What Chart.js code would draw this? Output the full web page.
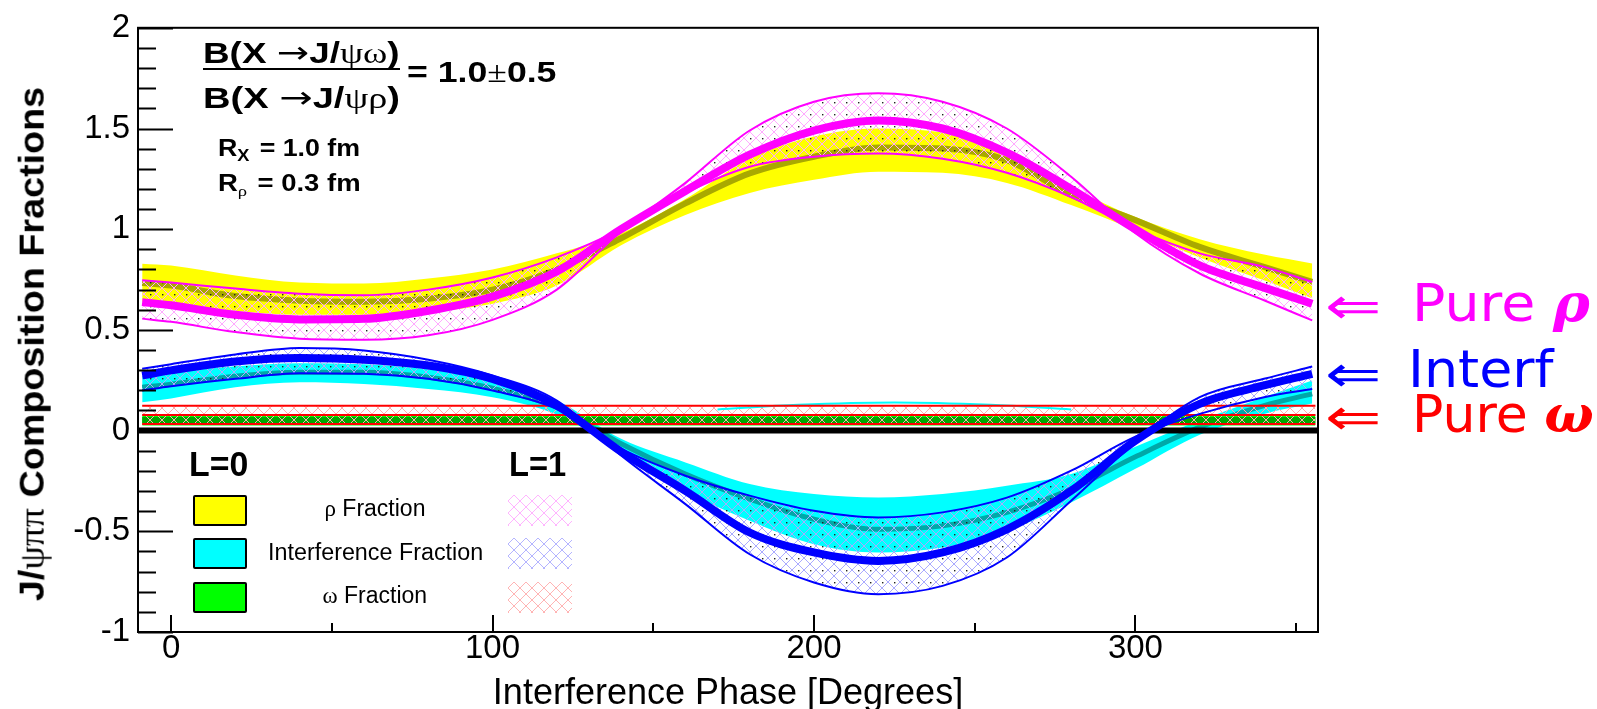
<!DOCTYPE html>
<html>
<head>
<meta charset="utf-8">
<script src="https://cdn.jsdelivr.net/npm/chart.js@4.4.1/dist/chart.umd.min.js"></script>
<style>
html, body { margin: 0; padding: 0; background: #fff; }
#wrap { position: relative; width: 1597px; height: 709px; overflow: hidden; font-family: "Liberation Sans", Arial, sans-serif; color: #000; }
#c { position: absolute; left: 0; top: 0; }
.t { position: absolute; white-space: nowrap; line-height: 1; transform-origin: 0 50%; }
.b { font-weight: bold; }
.g { font-family: "Liberation Serif", serif; font-weight: normal; }
.ar { font-family: "DejaVu Sans", sans-serif; font-weight: normal; font-size: 1.05em; }
.sub { font-size: 0.68em; position: relative; top: 0.35em; margin-right: 0.15em; }
.rl { font-family: "DejaVu Sans", sans-serif; }
.gi { font-family: "DejaVu Serif", serif; font-style: italic; font-weight: bold; }
.sw { position: absolute; box-sizing: border-box; }
.box { border: 2px solid #000; border-radius: 2px; }
#bar { position: absolute; left: 203px; top: 68px; width: 197px; height: 2px; background: #000; }
</style>
</head>
<body>
<div id="wrap">
  <canvas id="c" width="1597" height="709"></canvas>

  <div class="t b" id="ytitle">J/<span class="g">ψππ</span> Composition Fractions</div>

  <div class="t b" id="num">B(X <span class="ar">→</span>J/<span class="g">ψω</span>)</div>
  <div id="bar"></div>
  <div class="t b" id="den">B(X <span class="ar">→</span>J/<span class="g">ψρ</span>)</div>
  <div class="t b" id="ratio">= 1.0<span class="g">±</span>0.5</div>
  <div class="t b" id="rx">R<span class="sub">X</span> = 1.0 fm</div>
  <div class="t b" id="rr">R<span class="sub g">ρ</span> = 0.3 fm</div>

  <div class="t b" id="l0">L=0</div>
  <div class="t b" id="l1">L=1</div>
  <div class="sw box" id="sw0a" style="left:193px;top:495px;width:54px;height:31px;background:#ffff00"></div>
  <div class="sw box" id="sw0b" style="left:193px;top:538px;width:54px;height:31px;background:#00ffff"></div>
  <div class="sw box" id="sw0c" style="left:193px;top:582px;width:54px;height:31px;background:#00ff00"></div>
  <div class="sw" id="sw1a" style="left:508px;top:495px;width:64px;height:31px"></div>
  <div class="sw" id="sw1b" style="left:508px;top:538px;width:64px;height:31px"></div>
  <div class="sw" id="sw1c" style="left:508px;top:582px;width:64px;height:31px"></div>
  <div class="t" id="lt1"><span class="g">ρ</span> Fraction</div>
  <div class="t" id="lt2">Interference Fraction</div>
  <div class="t" id="lt3"><span class="g">ω</span> Fraction</div>

  <div class="t rl" id="a1" style="color:#ff00ff">⇐</div>
  <div class="t rl" id="a2" style="color:#0000ff">⇐</div>
  <div class="t rl" id="a3" style="color:#ff0000">⇐</div>
  <div class="t rl" id="r1" style="color:#ff00ff">Pure <span class="gi">ρ</span></div>
  <div class="t rl" id="r2" style="color:#0000ff">Interf</div>
  <div class="t rl" id="r3" style="color:#ff0000">Pure <span class="gi">ω</span></div>
</div>

<script>
// interference phase in degrees
const phase = [-9, 0, 20, 40, 60, 80, 100, 120, 140, 160, 180, 200, 220, 240, 260, 280, 300, 320, 340, 355];

// L=0 rho fraction (yellow band + centre)
const rhoL0Low  = [0.64, 0.63, 0.595, 0.575, 0.575, 0.59, 0.63, 0.72, 0.92, 1.07, 1.18, 1.245, 1.285, 1.28, 1.23, 1.12, 0.995, 0.86, 0.746, 0.657];
const rhoL0High = [0.829, 0.82, 0.77, 0.735, 0.73, 0.755, 0.80, 0.88, 0.98, 1.15, 1.35, 1.46, 1.50, 1.48, 1.40, 1.21, 1.06, 0.95, 0.874, 0.83];
const rhoL0Mid  = [0.733, 0.72, 0.668, 0.645, 0.64, 0.655, 0.70, 0.80, 0.955, 1.128, 1.277, 1.36, 1.406, 1.401, 1.343, 1.17, 1.045, 0.912, 0.813, 0.738];

// L=1 rho fraction (magenta)
const rhoL1Mid = [0.638, 0.622, 0.575, 0.552, 0.555, 0.595, 0.665, 0.79, 1.0, 1.19, 1.37, 1.49, 1.54, 1.50, 1.38, 1.20, 1.0, 0.82, 0.71, 0.63];
const rhoL1A   = [0.556, 0.54, 0.489, 0.456, 0.451, 0.473, 0.55, 0.70, 0.99, 1.23, 1.49, 1.633, 1.675, 1.633, 1.50, 1.26, 0.98, 0.78, 0.647, 0.547];
const rhoL1B   = [0.746, 0.735, 0.705, 0.68, 0.672, 0.70, 0.76, 0.86, 1.0, 1.18, 1.31, 1.36, 1.376, 1.35, 1.28, 1.16, 1.0, 0.88, 0.813, 0.738];

// L=0 interference fraction (cyan)
const intL0Low  = [0.141, 0.16, 0.215, 0.24, 0.232, 0.207, 0.166, 0.08, -0.1, -0.3, -0.448, -0.564, -0.605, -0.58, -0.498, -0.357, -0.19, -0.02, 0.083, 0.134];
const intL0High = [0.27, 0.29, 0.32, 0.335, 0.33, 0.305, 0.25, 0.15, -0.041, -0.158, -0.265, -0.315, -0.332, -0.315, -0.274, -0.216, -0.08, 0.05, 0.166, 0.249];
const intL0Mid  = [0.215, 0.23, 0.27, 0.29, 0.29, 0.265, 0.21, 0.115, -0.065, -0.216, -0.34, -0.44, -0.49, -0.473, -0.406, -0.29, -0.13, 0.017, 0.124, 0.182];

// L=1 interference fraction (blue)
const intL1Mid = [0.274, 0.299, 0.343, 0.36, 0.352, 0.323, 0.257, 0.125, -0.105, -0.299, -0.506, -0.605, -0.647, -0.605, -0.49, -0.299, -0.05, 0.133, 0.224, 0.282];
const intL1A   = [0.307, 0.33, 0.378, 0.41, 0.398, 0.352, 0.274, 0.149, -0.124, -0.365, -0.614, -0.754, -0.812, -0.771, -0.63, -0.348, -0.06, 0.166, 0.257, 0.318];
const intL1B   = [0.199, 0.22, 0.257, 0.285, 0.282, 0.257, 0.199, 0.108, -0.09, -0.224, -0.323, -0.398, -0.431, -0.406, -0.333, -0.199, -0.03, 0.083, 0.166, 0.207];

// omega fractions (flat)
const omegaPhase  = [-9, 356];
const omegaL0Low  = [0.025, 0.025];
const omegaL0High = [0.08, 0.08];
const omegaL0Mid  = [0.053, 0.053];
const omegaL1Low  = [0.033, 0.033];
const omegaL1Mid  = [0.078, 0.078];
const omegaL1High = [0.124, 0.124];

// thin cyan edge above the omega band
const sliverPhase = [170, 195, 225, 255, 280];
const sliverVals  = [0.105, 0.128, 0.14, 0.128, 0.105];

const zeroPhase = [-10.3, 356.8];
const zeroVals  = [0, 0];

const xTicks = [0, 100, 200, 300];
const yTicks = [-1, -0.5, 0, 0.5, 1, 1.5, 2];
const yTickLabels = ['-1', '-0.5', '0', '0.5', '1', '1.5', '2'];

const canvas = document.getElementById('c');
const ctx = canvas.getContext('2d');

function hatchTile(color, dots) {
    const c = document.createElement('canvas');
    c.width = 12; c.height = 12;
    const g = c.getContext('2d');
    g.strokeStyle = color;
    g.lineWidth = 1;
    g.beginPath();
    g.moveTo(0, 6); g.lineTo(6, 0); g.lineTo(12, 6); g.lineTo(6, 12); g.closePath();
    g.stroke();
    if (dots) {
        g.fillStyle = '#222';
        g.fillRect(6, 6, 1.4, 1.4);
    }
    return c;
}

const pinkHatch = ctx.createPattern(hatchTile('#ffaaff', true), 'repeat');
const blueHatch = ctx.createPattern(hatchTile('#aaaaff', true), 'repeat');
const redHatch  = ctx.createPattern(hatchTile('#ffaaaa', true), 'repeat');

document.getElementById('sw1a').style.background = 'url(' + hatchTile('#ffb4ff', false).toDataURL() + ')';
document.getElementById('sw1b').style.background = 'url(' + hatchTile('#b4b4ff', false).toDataURL() + ')';
document.getElementById('sw1c').style.background = 'url(' + hatchTile('#ffb4b4', false).toDataURL() + ')';

const datasets = [];
function pts(xs, ys) { return xs.map((x, i) => ({ x: x, y: ys[i] })); }
function curve(xs, ys, color, width, order, extra) {
    datasets.push(Object.assign({
        data: pts(xs, ys),
        borderColor: color,
        borderWidth: width,
        pointRadius: 0,
        fill: false,
        order: order,
        cubicInterpolationMode: 'monotone'
    }, extra || {}));
    return datasets.length - 1;
}
function band(xs, lo, hi, bg, order) {
    const i = curve(xs, lo, 'rgba(0,0,0,0)', 0, order);
    curve(xs, hi, 'rgba(0,0,0,0)', 0, order, { fill: { target: i }, backgroundColor: bg });
}

// back to front
band(phase, rhoL0Low, rhoL0High, '#ffff00', 16);
curve(phase, rhoL0Mid, '#a9a900', 6, 15);
band(phase, intL0Low, intL0High, '#00ffff', 14);
curve(phase, intL0Mid, '#00a8a8', 5, 13);
band(omegaPhase, omegaL0Low, omegaL0High, '#00ff00', 12);
curve(omegaPhase, omegaL0Mid, '#00a800', 6, 11);
band(phase, rhoL1A, rhoL1B, pinkHatch, 10);
band(phase, intL1A, intL1B, blueHatch, 9);
band(omegaPhase, omegaL1Low, omegaL1High, redHatch, 8);
curve(sliverPhase, sliverVals, '#00ffff', 2, 7);
curve(omegaPhase, omegaL1Low, '#ff0000', 2, 6);
curve(omegaPhase, omegaL1Mid, '#ff0000', 2, 6);
curve(omegaPhase, omegaL1High, '#ff0000', 2, 6);
curve(phase, rhoL1A, '#ff00ff', 2, 5);
curve(phase, rhoL1B, '#ff00ff', 2, 5);
curve(phase, intL1A, '#0000ff', 2, 4);
curve(phase, intL1B, '#0000ff', 2, 4);
curve(zeroPhase, zeroVals, '#000000', 6, 3);
curve(phase, rhoL1Mid, '#ff00ff', 8, 2);
curve(phase, intL1Mid, '#0000ff', 8, 1);

// frame and inward ticks, ROOT style
const frameTicks = {
    id: 'frameTicks',
    afterDraw(chart) {
        const { ctx, chartArea: a, scales: { x, y } } = chart;
        ctx.save();
        ctx.strokeStyle = '#000';
        ctx.lineWidth = 2;
        ctx.beginPath();
        for (let k = -10; k <= 20; k++) {
            const py = Math.round(y.getPixelForValue(k / 10)) + 0.5;
            const len = k % 5 === 0 ? 35 : 18;
            ctx.moveTo(a.left, py);
            ctx.lineTo(a.left + len, py);
        }
        for (let k = 0; k <= 7; k++) {
            const px = Math.round(x.getPixelForValue(k * 50));
            const len = k % 2 === 0 ? 17 : 9;
            ctx.moveTo(px, a.bottom);
            ctx.lineTo(px, a.bottom - len);
        }
        ctx.stroke();
        ctx.strokeRect(a.left, a.top, a.right - a.left, a.bottom - a.top);
        ctx.restore();
    }
};

const tickFont = { family: 'Liberation Sans', size: 33 };

new Chart(ctx, {
    type: 'line',
    data: { datasets: datasets },
    options: {
        responsive: false,
        animation: false,
        devicePixelRatio: 1,
        layout: { padding: { top: 26, right: 279, bottom: 0, left: 0 } },
        plugins: { legend: { display: false }, tooltip: { enabled: false } },
        scales: {
            x: {
                type: 'linear',
                min: -10.3,
                max: 356.8,
                grid: { display: false, drawTicks: false },
                border: { display: false },
                afterBuildTicks: s => { s.ticks = xTicks.map(v => ({ value: v })); },
                afterFit: s => { s.height = 77; },
                ticks: { font: tickFont, color: '#000', padding: -3, maxRotation: 0, autoSkip: false },
                title: {
                    display: true,
                    text: 'Interference Phase [Degrees]',
                    font: { family: 'Liberation Sans', size: 36 },
                    color: '#000',
                    padding: { top: 0, bottom: -7 }
                }
            },
            y: {
                type: 'linear',
                min: -1,
                max: 2,
                grid: { display: false, drawTicks: false },
                border: { display: false },
                afterBuildTicks: s => { s.ticks = yTicks.map(v => ({ value: v })); },
                afterFit: s => { s.width = 138; },
                ticks: {
                    font: tickFont, color: '#000', padding: 8, autoSkip: false,
                    callback: (v, i) => yTickLabels[i]
                }
            }
        }
    },
    plugins: [frameTicks]
});

// text placement helpers
function place(id, left, capY, size, width, center) {
    const el = document.getElementById(id);
    el.style.fontSize = size + 'px';
    const w = el.offsetWidth;
    const k = width ? width / w : 1;
    el.style.left = (center ? left - w * k / 2 : left) + 'px';
    el.style.top = (capY - 0.49 * size) + 'px';
    if (width) el.style.transform = 'scaleX(' + k + ')';
}

const yt = document.getElementById('ytitle');
yt.style.fontSize = '35px';
const W = yt.offsetWidth, H = yt.offsetHeight;
yt.style.left = (31 - W / 2) + 'px';
yt.style.top = (344 - H / 2) + 'px';
yt.style.transformOrigin = '50% 50%';
yt.style.transform = 'rotate(-90deg) scaleX(' + (514 / W) + ')';

place('num', 203, 52, 29, 197);
place('den', 203, 97, 29, 197);
place('ratio', 407, 72, 29, 150);
place('rx', 218, 148, 23, 142);
place('rr', 218, 183, 23, 142);

place('l0', 189, 463, 35, 59);
place('l1', 509, 463, 35, 57);
place('lt1', 375, 508, 23, 0, true);
place('lt2', 375, 552, 23, 215, true);
place('lt3', 375, 595, 23, 0, true);

place('a1', 1325, 305, 52, 57);
place('a2', 1325, 373, 52, 57);
place('a3', 1325, 416, 52, 57);
place('r1', 1412, 302, 52, 178);
place('r2', 1408, 368, 52, 145);
place('r3', 1412, 413, 52, 182);
</script>
</body>
</html>
